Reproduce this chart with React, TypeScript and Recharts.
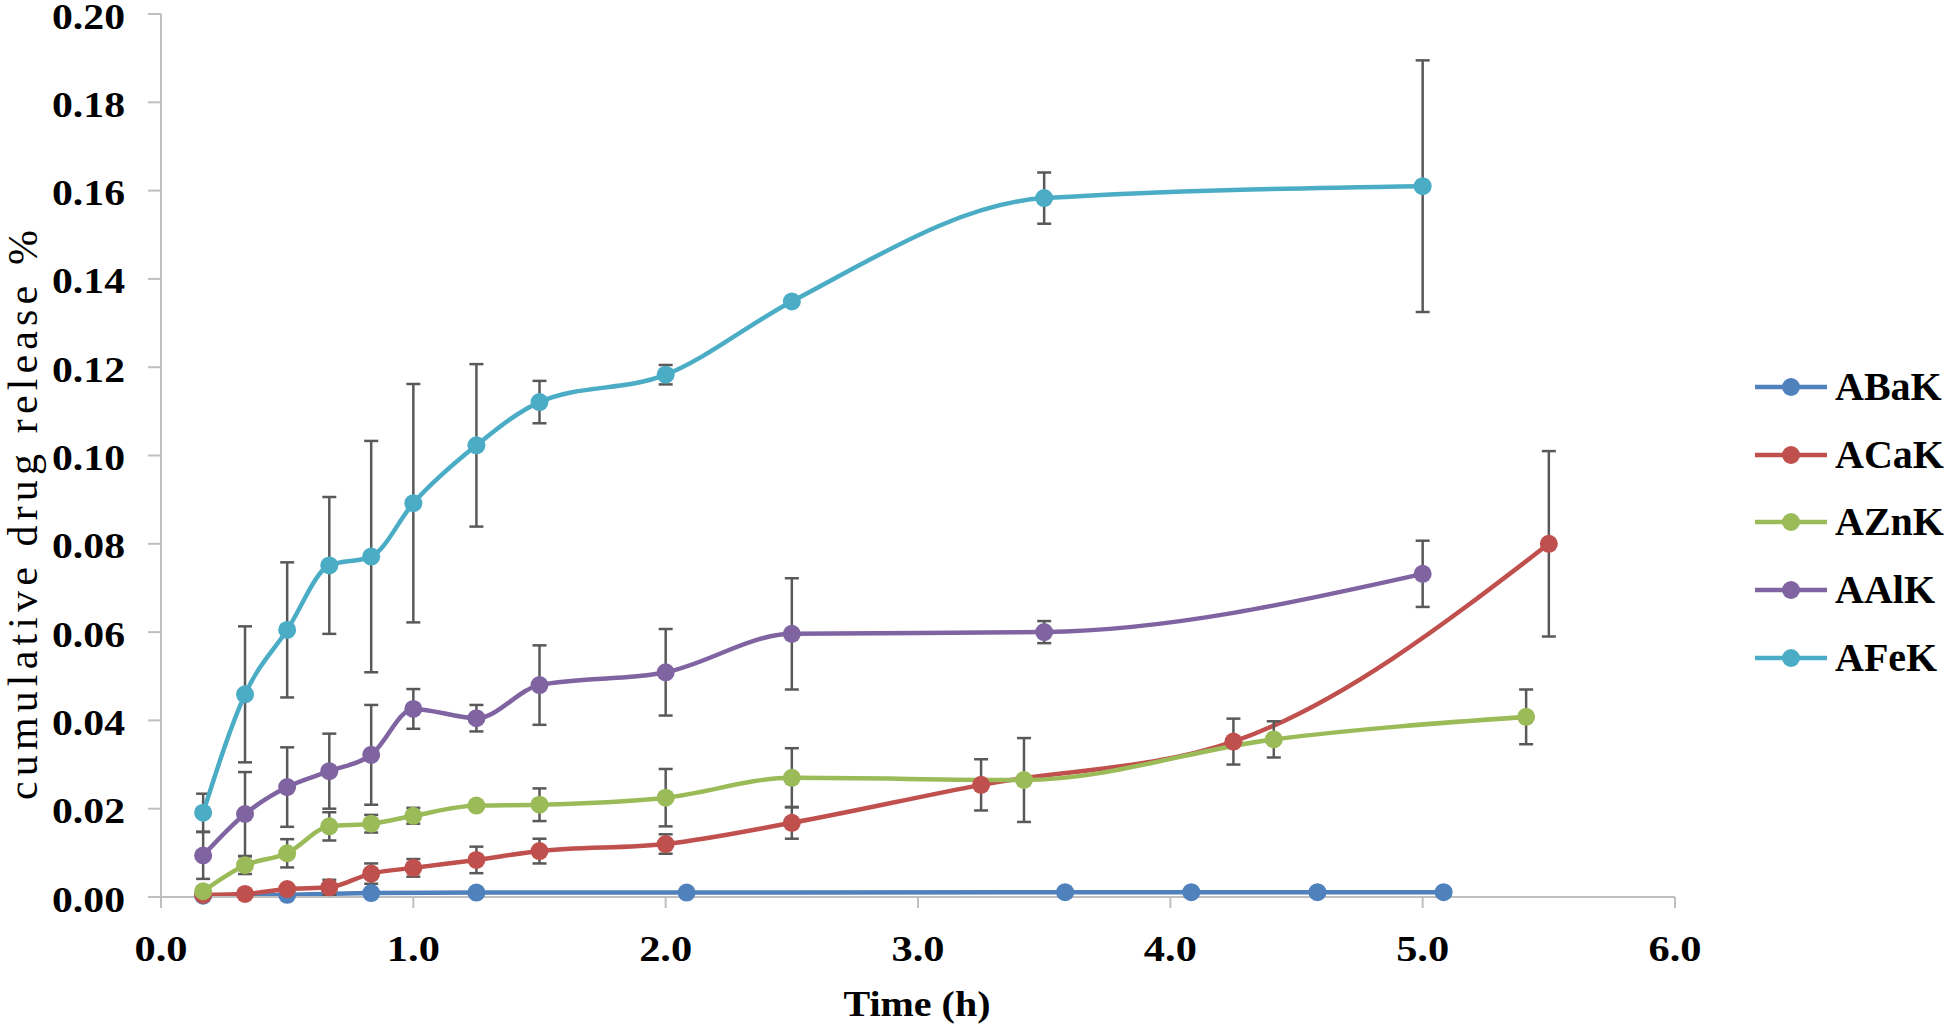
import React from 'react';
import { LineChart, Line, XAxis, YAxis, ErrorBar } from 'recharts';

// series, in Excel drawing order
const seriesNames = ['ABaK', 'ACaK', 'AZnK', 'AAlK', 'AFeK'];
const seriesColors = ['#4F81BD', '#C0504D', '#9BBB59', '#8064A2', '#4BACC6'];

const baTime = [0.167, 0.5, 0.833, 1.25, 2.083, 3.583, 4.083, 4.583, 5.083];
const baValue = [0.0003, 0.0005, 0.0009, 0.001, 0.001, 0.0011, 0.0011, 0.0011, 0.0011];

const caTime = [0.167, 0.333, 0.5, 0.667, 0.833, 1.0, 1.25, 1.5, 2.0, 2.5, 3.25, 4.25, 5.5];
const caValue = [0.0005, 0.0007, 0.0018, 0.0022, 0.0053, 0.0066, 0.0084, 0.0104, 0.012, 0.0168, 0.0254, 0.0352, 0.08];
const caError = [0, 0, 0.0005, 0.0017, 0.0023, 0.002, 0.003, 0.0028, 0.0022, 0.0036, 0.0058, 0.0052, 0.021];

const znTime = [0.167, 0.333, 0.5, 0.667, 0.833, 1.0, 1.25, 1.5, 2.0, 2.5, 3.42, 4.41, 5.41];
const znValue = [0.0013, 0.0072, 0.0099, 0.016, 0.0166, 0.0184, 0.0207, 0.0209, 0.0225, 0.027, 0.0265, 0.0357, 0.0408];
const znError = [0.001, 0.002, 0.0032, 0.0032, 0.002, 0.0018, 0.0005, 0.0037, 0.0065, 0.0067, 0.0095, 0.0041, 0.0062];

const alTime = [0.167, 0.333, 0.5, 0.667, 0.833, 1.0, 1.25, 1.5, 2.0, 2.5, 3.5, 5.0];
const alValue = [0.0094, 0.0188, 0.0249, 0.0285, 0.0322, 0.0426, 0.0405, 0.048, 0.0509, 0.0596, 0.06, 0.0732];
const alError = [0.0053, 0.0095, 0.009, 0.0085, 0.0113, 0.0045, 0.003, 0.009, 0.0098, 0.0126, 0.0025, 0.0075];

const feTime = [0.167, 0.333, 0.5, 0.667, 0.833, 1.0, 1.25, 1.5, 2.0, 2.5, 3.5, 5.0];
const feValue = [0.0191, 0.0459, 0.0605, 0.0751, 0.0771, 0.0892, 0.1023, 0.1121, 0.1183, 0.1349, 0.1583, 0.161];
const feError = [0.0043, 0.0154, 0.0153, 0.0155, 0.0262, 0.027, 0.0184, 0.0048, 0.0022, 0, 0.0058, 0.0285];

const xTicks = [0, 1, 2, 3, 4, 5, 6];
const yTicks = [0, 0.02, 0.04, 0.06, 0.08, 0.1, 0.12, 0.14, 0.16, 0.18, 0.2];

const build = (time: number[], value: number[], err?: number[]) =>
  time.map((t, i) => ({ t, v: value[i], err: err ? err[i] : 0 }));

const seriesData = [
  build(baTime, baValue),
  build(caTime, caValue, caError),
  build(znTime, znValue, znError),
  build(alTime, alValue, alError),
  build(feTime, feValue, feError),
];

const FONT = '"Liberation Serif", "Times New Roman", serif';
const AXIS = '#BFBFBF';

const YTick = ({ x, y, payload }: any) => (
  <text x={x} y={y} dy={3} textAnchor="end" dominantBaseline="central" fontFamily={FONT}
    fontWeight="bold" fontSize={35} fill="#000" textLength={73} lengthAdjust="spacingAndGlyphs">
    {Number(payload.value).toFixed(2)}
  </text>
);

const XTick = ({ x, y, payload }: any) => (
  <text x={x} y={y} dy="0.71em" textAnchor="middle" fontFamily={FONT} fontWeight="bold"
    fontSize={35} fill="#000" textLength={53} lengthAdjust="spacingAndGlyphs">
    {Number(payload.value).toFixed(1)}
  </text>
);

const Legend = () => (
  <div style={{ position: 'absolute', left: 1755, top: 0 }}>
    {seriesNames.map((name, i) => (
      <div key={name} style={{ position: 'absolute', top: 387 + i * 67.7 - 20, left: 0, height: 40,
        display: 'flex', alignItems: 'center', whiteSpace: 'nowrap' }}>
        <svg width={72} height={20} style={{ display: 'block' }}>
          <line x1={0} y1={10} x2={72} y2={10} stroke={seriesColors[i]} strokeWidth={4.5} strokeLinecap="round" />
          <circle cx={36} cy={10} r={9} fill={seriesColors[i]} />
        </svg>
        <span style={{ marginLeft: 8, fontFamily: FONT, fontWeight: 'bold', fontSize: 40, color: '#000',
          lineHeight: '40px' }}>{name}</span>
      </div>
    ))}
  </div>
);

export default function App() {
  return (
    <div style={{ position: 'absolute', left: 0, top: 0, width: 1946, height: 1032, background: '#fff' }}>
      <LineChart width={1946} height={1032} margin={{ top: 14, right: 271, bottom: 0, left: 0 }}>
        <XAxis dataKey="t" type="number" domain={[0, 6]} ticks={xTicks} allowDataOverflow
          height={135} tick={<XTick />} tickSize={11} tickMargin={28}
          axisLine={{ stroke: AXIS, strokeWidth: 2 }} tickLine={{ stroke: AXIS, strokeWidth: 2 }}
          label={{
            content: () => (
              <text x={917} y={1016} textAnchor="middle" fontFamily={FONT} fontWeight="bold" fontSize={35}
                fill="#000" textLength={147} lengthAdjust="spacingAndGlyphs">Time (h)</text>
            ),
          }} />
        <YAxis type="number" domain={[0, 0.2]} ticks={yTicks} width={161} interval={0}
          tick={<YTick />} tickSize={13} tickMargin={23}
          axisLine={{ stroke: AXIS, strokeWidth: 2 }} tickLine={{ stroke: AXIS, strokeWidth: 2 }}
          label={{
            content: () => (
              <text x={23} y={515} transform="rotate(-90, 23, 515)" textAnchor="middle"
                dominantBaseline="central" fontFamily={FONT} fontSize={42} fill="#000"
                textLength={570} lengthAdjust="spacing">cumulative drug release %</text>
            ),
          }} />
        {seriesData.map((data, i) => (
          <Line key={seriesNames[i]} data={data} dataKey="v" name={seriesNames[i]} type="monotone"
            stroke={seriesColors[i]} strokeWidth={4.5}
            dot={{ r: 9, fill: seriesColors[i], stroke: seriesColors[i], strokeWidth: 0 }}
            activeDot={false} isAnimationActive={false}>
            {i > 0 && <ErrorBar dataKey="err" direction="y" width={7} strokeWidth={2.5} stroke="#595959" />}
          </Line>
        ))}
      </LineChart>
      <Legend />
    </div>
  );
}
